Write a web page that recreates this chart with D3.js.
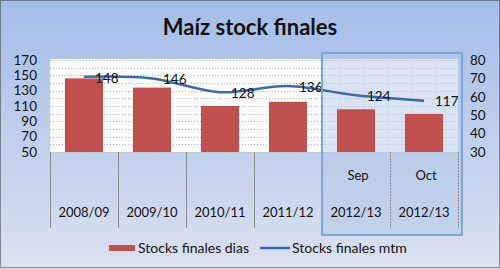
<!DOCTYPE html>
<html>
<head>
<meta charset="utf-8">
<script src="https://cdn.jsdelivr.net/npm/d3@7/dist/d3.min.js"></script>
<style>
  html, body { margin: 0; padding: 0; background: #fff; }
  svg { display: block; font-family: Lato, "Open Sans", sans-serif; }
</style>
</head>
<body>
<svg id="chart" width="500" height="269"></svg>
<script>
// Campaigns shown on the category axis (upper line = month, lower line = season)
const categories = ["2008/09", "2009/10", "2010/11", "2011/12", "2012/13 Sep", "2012/13 Oct"];
const monthLabels = ["", "", "", "", "Sep", "Oct"];
const seasonLabels = ["2008/09", "2009/10", "2010/11", "2011/12", "2012/13", "2012/13"];

// Ending stocks in days of use (bars, right axis)
const stockDays = [70, 65, 55, 57.3, 53.2, 50.7];
// Ending stocks in million tonnes (line, left axis)
const stockMt = [148, 146, 128, 136, 124, 117];

const leftTicks = [50, 70, 90, 110, 130, 150, 170];
const rightTicks = [30, 40, 50, 60, 70, 80];

const svg = d3.select("#chart");
const W = 500, H = 269;
const plot = { left: 50, right: 458, top: 60, bottom: 152 };

// Background gradient
const defs = svg.append("defs");
const grad = defs.append("linearGradient").attr("id", "bg").attr("x1", 0).attr("y1", 0).attr("x2", 0).attr("y2", 1);
grad.append("stop").attr("offset", "0%").attr("stop-color", "#a4bde9");
grad.append("stop").attr("offset", "45%").attr("stop-color", "#bccdec");
grad.append("stop").attr("offset", "100%").attr("stop-color", "#dbe2f1");
svg.append("rect").attr("width", W).attr("height", H).attr("fill", "url(#bg)");

// Title
svg.append("text")
  .attr("x", 250).attr("y", 35)
  .attr("text-anchor", "middle")
  .attr("font-size", 22).attr("font-weight", "bold")
  .attr("fill", "#111")
  .text("Maíz stock finales");

// Scales
const x = d3.scaleBand().domain(categories).range([plot.left, plot.right]).paddingInner(0.44).paddingOuter(0.22);
const xCat = d3.scaleBand().domain(categories).range([plot.left, plot.right]).padding(0);
const yL = d3.scaleLinear().domain([50, 170]).range([plot.bottom, plot.top]);
const yR = d3.scaleLinear().domain([30, 80]).range([plot.bottom, plot.top]);

// Plot area
svg.append("rect")
  .attr("x", plot.left).attr("y", plot.top - 1)
  .attr("width", plot.right - plot.left).attr("height", plot.bottom - plot.top + 1)
  .attr("fill", "#ffffff");

// Dotted gridlines every 10 units on the left scale
const gridVals = d3.range(50, 171, 10);
svg.append("g").selectAll("line").data(gridVals).join("line")
  .attr("x1", plot.left).attr("x2", plot.right)
  .attr("y1", d => Math.round(yL(d)) + 0.5).attr("y2", d => Math.round(yL(d)) + 0.5)
  .attr("stroke", "#b4b4b4").attr("stroke-width", 1).attr("stroke-dasharray", "1,2");

// Highlight frame around the 2012/13 monthly estimates
const boxX0 = xCat(categories[4]);
const boxX1 = xCat(categories[5]) + xCat.bandwidth();
svg.append("rect")
  .attr("x", boxX0).attr("y", 53)
  .attr("width", boxX1 - boxX0 + 4).attr("height", 182)
  .attr("fill", "#b3c7e8").attr("fill-opacity", 0.5);

// Bars
svg.append("g").selectAll("rect").data(categories).join("rect")
  .attr("x", d => x(d))
  .attr("width", x.bandwidth())
  .attr("y", (d, i) => yR(stockDays[i]))
  .attr("height", (d, i) => plot.bottom - yR(stockDays[i]))
  .attr("fill", "#c0504d");

// Category separators below the plot
svg.append("g").selectAll("line").data(d3.range(categories.length + 1)).join("line")
  .attr("x1", i => Math.round(plot.left + i * xCat.step()) + 0.5)
  .attr("x2", i => Math.round(plot.left + i * xCat.step()) + 0.5)
  .attr("y1", plot.bottom).attr("y2", 228)
  .attr("stroke", "#8c8c8c")
  .attr("stroke-dasharray", i => i >= 5 ? "2,1" : null);

// Axes
const axisL = d3.axisLeft(yL).tickValues(leftTicks).tickSize(0).tickPadding(0);
const gL = svg.append("g").attr("transform", `translate(${plot.left - 13},0)`).call(axisL);
gL.select(".domain").remove();
gL.selectAll("text").attr("font-size", 13.5).attr("fill", "#111").attr("font-family", "Lato, sans-serif");

const axisR = d3.axisRight(yR).tickValues(rightTicks).tickSize(0).tickPadding(0);
const gR = svg.append("g").attr("transform", `translate(${plot.right + 12},0)`).call(axisR);
gR.select(".domain").remove();
gR.selectAll("text").attr("font-size", 13.5).attr("fill", "#111").attr("font-family", "Lato, sans-serif");

// Category labels
const catG = svg.append("g").attr("font-size", 13).attr("fill", "#111").attr("text-anchor", "middle");
catG.selectAll("text.season").data(categories).join("text")
  .attr("class", "season")
  .attr("x", d => xCat(d) + xCat.bandwidth() / 2)
  .attr("y", 212).attr("dy", "0.35em")
  .text((d, i) => seasonLabels[i]);
catG.selectAll("text.month").data(categories).join("text")
  .attr("class", "month")
  .attr("x", d => xCat(d) + xCat.bandwidth() / 2 + 2)
  .attr("y", 175).attr("dy", "0.35em")
  .text((d, i) => monthLabels[i]);

// Smoothed line of ending stocks (mt)
const line = d3.line()
  .x((d, i) => x(categories[i]) + x.bandwidth() / 2)
  .y(d => yL(d))
  .curve(d3.curveCatmullRom.alpha(0.5));
svg.append("path")
  .datum(stockMt)
  .attr("d", line)
  .attr("fill", "none")
  .attr("stroke", "#3a6aae")
  .attr("stroke-width", 2.5);

// Value labels
svg.append("g").selectAll("text").data(stockMt).join("text")
  .attr("x", (d, i) => x(categories[i]) + x.bandwidth() / 2 + 11)
  .attr("y", d => yL(d) + 1)
  .attr("dy", "0.35em")
  .attr("font-size", 13.5).attr("fill", "#111")
  .text(d => d);

// Frame border
svg.append("rect")
  .attr("x", boxX0).attr("y", 53)
  .attr("width", boxX1 - boxX0 + 4).attr("height", 182)
  .attr("fill", "none").attr("stroke", "#7fa4dc").attr("stroke-width", 2);

// Legend
const lg = svg.append("g").attr("font-size", 14).attr("fill", "#111");
lg.append("rect").attr("x", 109).attr("y", 245).attr("width", 26).attr("height", 6).attr("fill", "#c0504d");
lg.append("text").attr("x", 138).attr("y", 248).attr("dy", "0.35em").text("Stocks finales dias");
lg.append("line").attr("x1", 260).attr("x2", 290).attr("y1", 248).attr("y2", 248)
  .attr("stroke", "#3a6aae").attr("stroke-width", 2.5);
lg.append("text").attr("x", 292).attr("y", 248).attr("dy", "0.35em").text("Stocks finales mtm");

// Outer dotted border
svg.append("rect")
  .attr("x", 0.5).attr("y", 0.5).attr("width", W - 1).attr("height", 267)
  .attr("fill", "none").attr("stroke", "#333").attr("stroke-dasharray", "1,1");
</script>
</body>
</html>
